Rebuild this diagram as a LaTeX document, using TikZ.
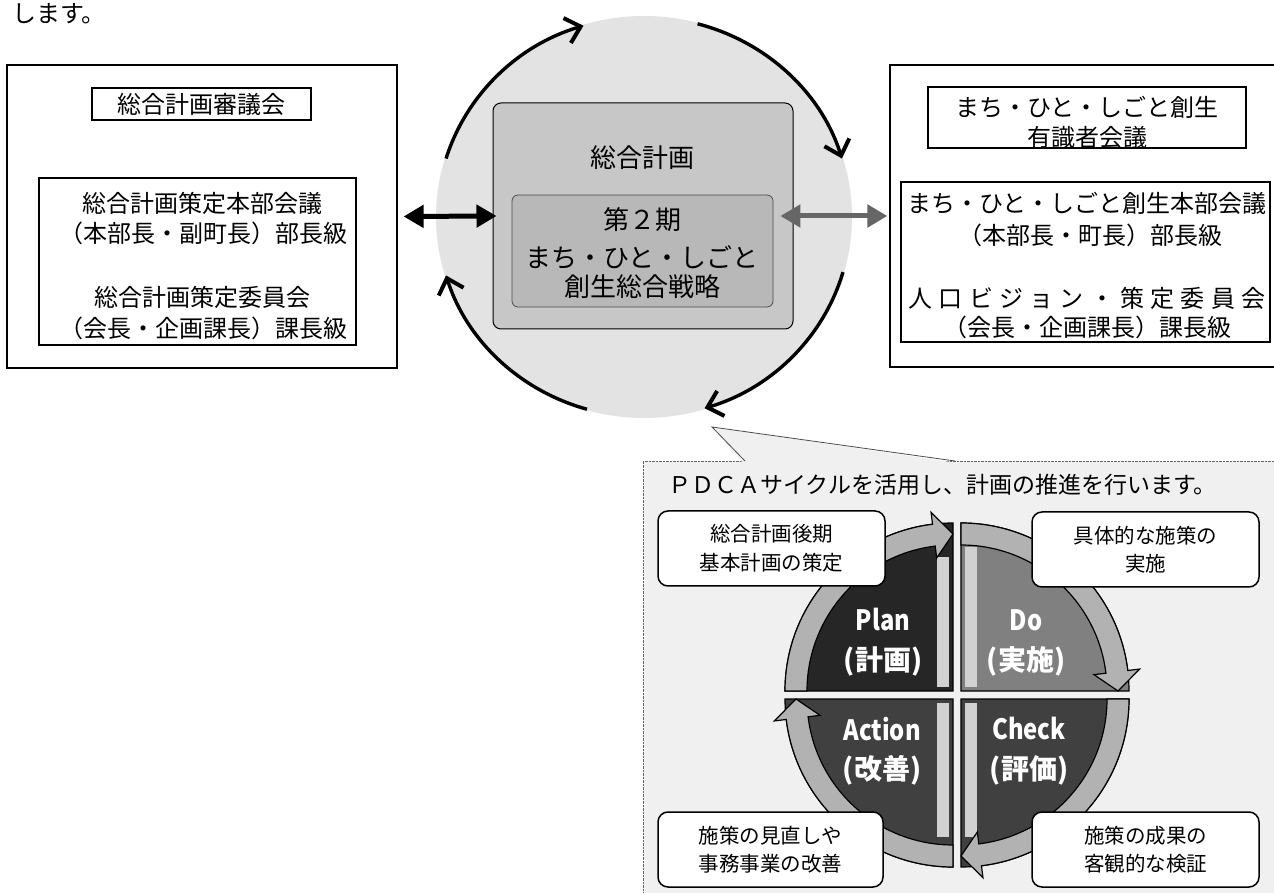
\documentclass[tikz,border=0pt]{standalone}
\usepackage{fontspec}
\setmainfont{Noto Sans CJK JP}
\usetikzlibrary{arrows.meta}
\newcommand\jfs[2]{\fontsize{#1}{#2}\selectfont}
\begin{document}
\begin{tikzpicture}[x=1pt,y=1pt,
  frame/.style={draw=black, line width=1.2pt, inner sep=0pt},
  t24/.style={inner sep=0pt, font=\jfs{24}{24}},
  t26/.style={inner sep=0pt, font=\jfs{26}{26}},
  cyc/.style={line width=3.4pt, -{Straight Barb[length=14pt,width=26pt,line width=4pt]}},
  dbl/.style={line width=5pt, {Triangle[length=20pt,width=22pt]}-{Triangle[length=20pt,width=22pt]}},
  quad/.style={draw=black, line width=1.2pt},
  band/.style={draw=black, line width=1.2pt, fill=black!30},
  strip/.style={fill=black!18},
  qlbl/.style={text=white, inner sep=0pt, font=\bfseries\jfs{28}{28}},
  callout/.style={draw=black, line width=1.5pt, rounded corners=10pt, fill=white, minimum width=227pt, minimum height=75pt, align=center, font=\jfs{20.5}{28.5}, inner sep=0pt}
]
\useasboundingbox (0,0) rectangle (1274,892);

% top text
\node[t24, anchor=base west] (topline) at (12,869) {します。};

% ---------- centre cycle ----------
\coordinate (cc) at (644,675);
\fill[black!11] (cc) ellipse [x radius=208, y radius=201];
\draw[cyc] ([shift={(163:207 and 200)}]cc) arc[start angle=163, end angle=107, x radius=207, y radius=200];
\draw[cyc] ([shift={(75:207 and 200)}]cc) arc[start angle=75, end angle=17, x radius=207, y radius=200];
\draw[cyc] ([shift={(-16:207 and 200)}]cc) arc[start angle=-16, end angle=-73, x radius=207, y radius=200];
\draw[cyc] ([shift={(-106:207 and 200)}]cc) arc[start angle=-106, end angle=-163, x radius=207, y radius=200];

\node[draw=black, line width=1pt, rounded corners=8pt, fill=black!22, minimum width=300pt, minimum height=226pt] (sogo) at (643,676) {};
\node[t26] (sogot) at (642,734) {総合計画};
\node[draw=black!70, line width=0.8pt, rounded corners=6pt, fill=black!28, minimum width=261pt, minimum height=112pt] (senryaku) at (642.5,641) {};
\node[t26] (s1) at (642,672) {第２期};
\node[t26] (s2) at (642,635) {まち・ひと・しごと};
\node[t26] (s3) at (642,605) {創生総合戦略};

% ---------- left box ----------
\node[frame, minimum width=390pt, minimum height=303pt] (leftbox) at (202,675.5) {};
\node[frame, minimum width=219pt, minimum height=32pt, font=\jfs{24}{24}] (shingi) at (201.5,788) {総合計画審議会};
\node[frame, minimum width=317pt, minimum height=167pt] (linner) at (197.5,630.5) {};
\node[t24] (l1) at (202,689) {総合計画策定本部会議};
\node[t24] (l2) at (203,659) {（本部長・副町長）部長級};
\node[t24] (l3) at (202,595) {総合計画策定委員会};
\node[t24] (l4) at (203,564) {（会長・企画課長）課長級};

% ---------- right box ----------
\node[frame, minimum width=390pt, minimum height=302pt] (rightbox) at (1085,676) {};
\node[frame, minimum width=318pt, minimum height=61pt] (yushiki) at (1087,774.5) {};
\node[t24] (r0a) at (1087,785) {まち・ひと・しごと創生};
\node[t24] (r0b) at (1087,755) {有識者会議};
\node[frame, minimum width=369pt, minimum height=160pt] (rinner) at (1085.5,630) {};
\node[t24] (r1) at (1087,689) {まち・ひと・しごと創生本部会議};
\node[t24] (r2) at (1090,657) {（本部長・町長）部長級};
\node[t24] (r3) at (1087,594) {\makebox[357pt][s]{人\hfill 口\hfill ビ\hfill ジ\hfill ョ\hfill ン\hfill ・\hfill 策\hfill 定\hfill 委\hfill 員\hfill 会}};
\node[t24] (r4) at (1087,565) {（会長・企画課長）課長級};

% ---------- double arrows ----------
\draw[dbl] ([xshift=6pt]leftbox.east) -- ([xshift=4pt]sogo.west);
\coordinate (rstart) at ([xshift=7pt]senryaku.east |- rightbox.west);
\draw[dbl, draw=black!60] (rstart) -- ([xshift=-2pt]rightbox.west);

% ---------- PDCA panel ----------
\node[draw=black!60, densely dotted, fill=black!6, minimum width=637pt, minimum height=436pt, inner sep=0pt] (panel) at (961.5,213) {};
\coordinate (tipc) at (712,465);
\fill[black!6] (743,429) -- (tipc) -- (957,429) -- cycle;
\draw[black!70, line width=0.8pt] (745,431) -- (tipc) -- (955,431);
\node[inner sep=0pt, anchor=west, font=\jfs{23}{23}] (ptitle) at (668,407) {ＰＤＣＡサイクルを活用し、計画の推進を行います。};

\coordinate (qP) at (953,201);
\coordinate (qD) at (961,201);
\coordinate (qC) at (961,193);
\coordinate (qA) at (953,193);

\filldraw[quad, fill=black!85] (qP) -- ++(180:168) arc[start angle=180, end angle=90, radius=168] -- cycle;
\filldraw[quad, fill=black!50] (qD) -- ++(90:168) arc[start angle=90, end angle=0, radius=168] -- cycle;
\filldraw[quad, fill=black!75] (qC) -- ++(0:168) arc[start angle=0, end angle=-90, radius=168] -- cycle;
\filldraw[quad, fill=black!75] (qA) -- ++(-90:168) arc[start angle=-90, end angle=-180, radius=168] -- cycle;

\fill[strip] (937,205) rectangle (949,335);
\fill[strip] (965,205) rectangle (977,345);
\fill[strip] (965,189) rectangle (977,55);
\fill[strip] (937,189) rectangle (949,55);

\filldraw[band] ([shift={(180:168)}]qP) arc[start angle=180, end angle=97, radius=168] -- ([shift={(97:180)}]qP) -- ([shift={(90:157)}]qP) -- ([shift={(97:134)}]qP) -- ([shift={(97:146)}]qP) arc[start angle=97, end angle=180, radius=146] -- cycle;
\filldraw[band] ([shift={(90:168)}]qD) arc[start angle=90, end angle=7, radius=168] -- ([shift={(7:180)}]qD) -- ([shift={(0:157)}]qD) -- ([shift={(7:134)}]qD) -- ([shift={(7:146)}]qD) arc[start angle=7, end angle=90, radius=146] -- cycle;
\filldraw[band] ([shift={(0:168)}]qC) arc[start angle=0, end angle=-83, radius=168] -- ([shift={(-83:180)}]qC) -- ([shift={(-90:157)}]qC) -- ([shift={(-83:134)}]qC) -- ([shift={(-83:146)}]qC) arc[start angle=-83, end angle=0, radius=146] -- cycle;
\filldraw[band] ([shift={(-90:168)}]qA) arc[start angle=-90, end angle=-173, radius=168] -- ([shift={(-173:180)}]qA) -- ([shift={(-180:157)}]qA) -- ([shift={(-173:134)}]qA) -- ([shift={(-173:146)}]qA) arc[start angle=-173, end angle=-90, radius=146] -- cycle;

\node[qlbl, xscale=0.85] (plan) at (883,272) {Plan};
\node[qlbl] (plank) at (883,231) {(計画)};
\node[qlbl, xscale=0.85] (do) at (1026,272) {Do};
\node[qlbl] (dok) at (1026,231) {(実施)};
\node[qlbl, xscale=0.85] (act) at (882,163) {Action};
\node[qlbl] (actk) at (882,122) {(改善)};
\node[qlbl, xscale=0.85] (chk) at (1029,163) {Check};
\node[qlbl] (chkk) at (1029,122) {(評価)};

\node[callout] (ctl) at (771.5,343.5) {総合計画後期\\基本計画の策定};
\node[callout] (ctr) at (1145.5,342.5) {具体的な施策の\\実施};
\node[callout, minimum width=225pt] (cbl) at (770.5,42.5) {施策の見直しや\\事務事業の改善};
\node[callout] (cbr) at (1145.5,42.5) {施策の成果の\\客観的な検証};
\end{tikzpicture}
\end{document}
